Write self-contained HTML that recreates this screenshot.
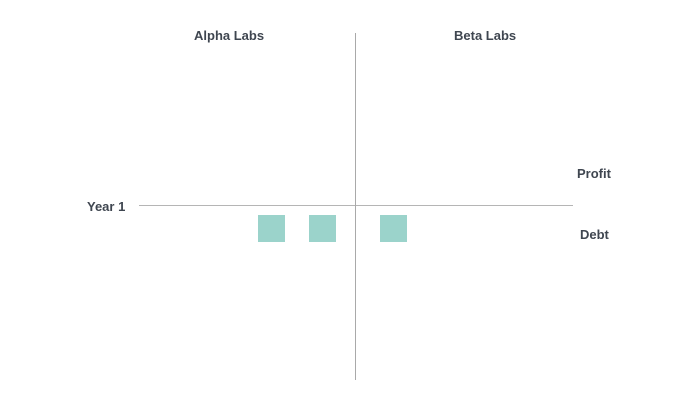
<!DOCTYPE html>
<html><head><style>
html,body{margin:0;padding:0;background:#fff;}
body{width:700px;height:403px;position:relative;overflow:hidden;font-family:"Liberation Sans",sans-serif;}
.t{position:absolute;font-size:13px;font-weight:bold;color:#3f4650;white-space:nowrap;}
.sq{position:absolute;width:27px;height:27px;background:#9bd3cb;top:215px;}
</style></head><body>
<div class="t" style="left:194px;top:28px;">Alpha Labs</div>
<div class="t" style="left:454px;top:28px;">Beta Labs</div>
<div class="t" style="left:577px;top:166px;">Profit</div>
<div class="t" style="left:87px;top:199px;">Year 1</div>
<div class="t" style="left:580px;top:227px;">Debt</div>
<div style="position:absolute;left:139px;top:205px;width:434px;height:1px;background:#b5b5b5;"></div>
<div style="position:absolute;left:355px;top:33px;width:1px;height:347px;background:#a9a9a9;"></div>
<div class="sq" style="left:258px;"></div>
<div class="sq" style="left:309px;"></div>
<div class="sq" style="left:380px;"></div>
</body></html>
